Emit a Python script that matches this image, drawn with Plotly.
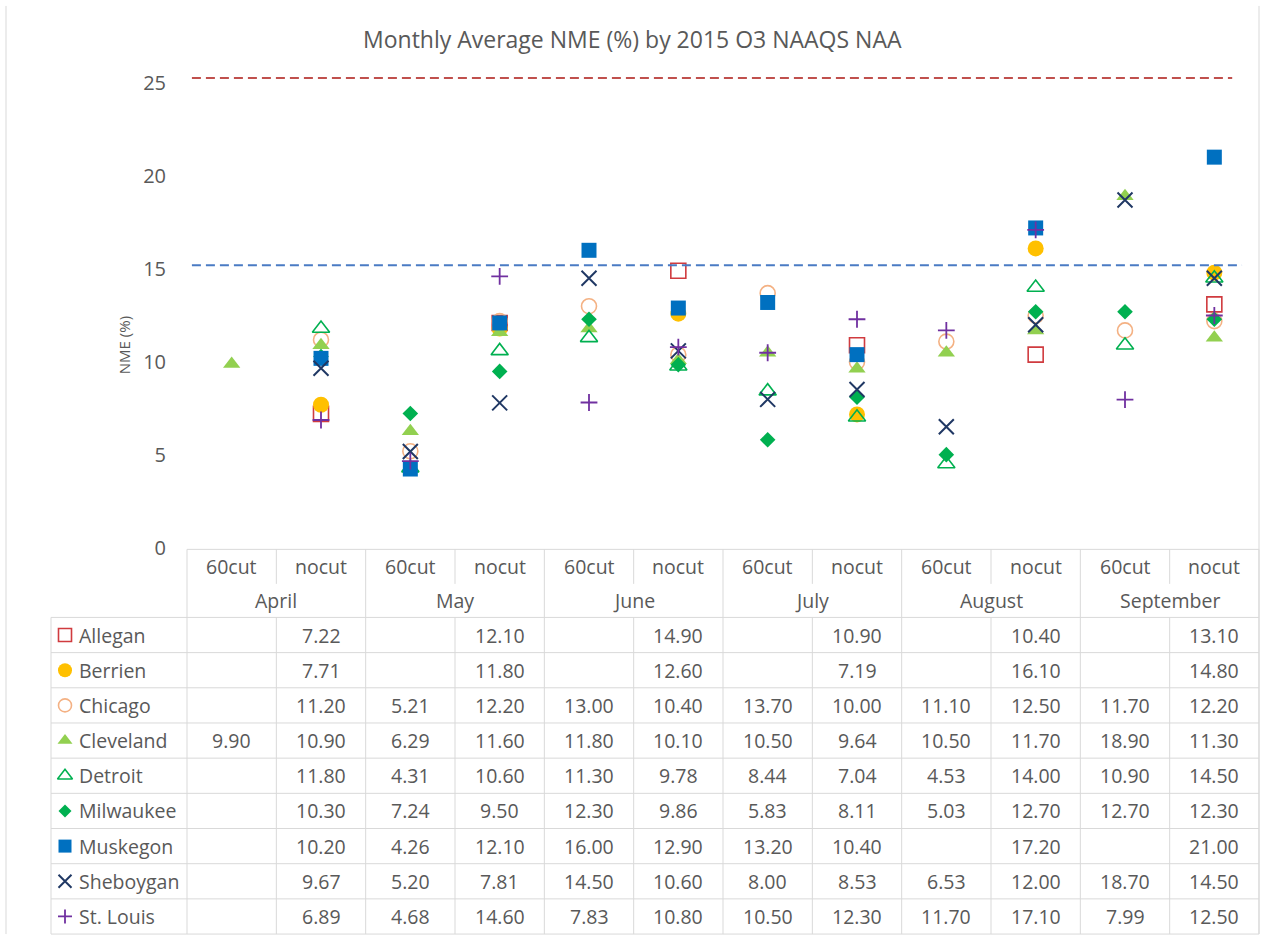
import plotly.graph_objects as go

# ---- data -------------------------------------------------------------
months = ["April", "May", "June", "July", "August", "September"]
cuts = ["60cut", "nocut"]
sites = ["Allegan", "Berrien", "Chicago", "Cleveland", "Detroit",
         "Milwaukee", "Muskegon", "Sheboygan", "St. Louis"]

# monthly average NME (%), ordered April 60cut, April nocut, May 60cut, ...
allegan   = [None, 7.22, None, 12.10, None, 14.90, None, 10.90, None, 10.40, None, 13.10]
berrien   = [None, 7.71, None, 11.80, None, 12.60, None, 7.19, None, 16.10, None, 14.80]
chicago   = [None, 11.20, 5.21, 12.20, 13.00, 10.40, 13.70, 10.00, 11.10, 12.50, 11.70, 12.20]
cleveland = [9.90, 10.90, 6.29, 11.60, 11.80, 10.10, 10.50, 9.64, 10.50, 11.70, 18.90, 11.30]
detroit   = [None, 11.80, 4.31, 10.60, 11.30, 9.78, 8.44, 7.04, 4.53, 14.00, 10.90, 14.50]
milwaukee = [None, 10.30, 7.24, 9.50, 12.30, 9.86, 5.83, 8.11, 5.03, 12.70, 12.70, 12.30]
muskegon  = [None, 10.20, 4.26, 12.10, 16.00, 12.90, 13.20, 10.40, None, 17.20, None, 21.00]
sheboygan = [None, 9.67, 5.20, 7.81, 14.50, 10.60, 8.00, 8.53, 6.53, 12.00, 18.70, 14.50]
st_louis  = [None, 6.89, 4.68, 14.60, 7.83, 10.80, 10.50, 12.30, 11.70, 17.10, 7.99, 12.50]

series = [allegan, berrien, chicago, cleveland, detroit,
          milwaukee, muskegon, sheboygan, st_louis]

# performance benchmark reference levels (%)
thresholds = [25.25, 15.2]
y_ticks = [0, 5, 10, 15, 20, 25]

# ---- styling ------------------------------------------------------------
TEXT = "#595959"
GRID = "#D9D9D9"
FONT = "Open Sans"

styles = [
    dict(symbol="square-open",   color="#D03B3F", size=15, lw=1.6),
    dict(symbol="circle",        color="#FFC000", size=16, lw=0),
    dict(symbol="circle-open",   color="#F4B183", size=15, lw=1.6),
    dict(symbol="triangle-up",   color="#92D050", size=15, lw=0),
    dict(symbol="triangle-up-open", color="#00B050", size=15, lw=1.6),
    dict(symbol="diamond",       color="#00B050", size=12, lw=0),
    dict(symbol="square",        color="#0070C0", size=15, lw=0),
    dict(symbol="x-thin-open",   color="#203864", size=15, lw=2),
    dict(symbol="cross-thin-open", color="#7030A0", size=12, lw=1.8),
]
threshold_colors = ["#C0504D", "#4A7BC4"]
threshold_ends = [11.2, 11.31]

W, H = 1264, 949
PLOT_L, PLOT_R, PLOT_T, PLOT_B = 187, 1259, 46, 556
Y_MAX = 27

n_cols = len(months) * len(cuts)
col_w = (PLOT_R - PLOT_L) / n_cols
col_edges = [PLOT_L + col_w * i for i in range(n_cols + 1)]
TABLE_TOP, HEAD_SPLIT, HEAD_BOTTOM = 557, 592, 626
row_h = 35.67
TABLE_LEFT = 51
TABLE_BOTTOM = HEAD_BOTTOM + row_h * len(sites)

fig = go.Figure()

# ---- scatter points on the value axis ----------------------------------
x_idx = list(range(n_cols))
for name, vals, st in zip(sites, series, styles):
    fig.add_trace(go.Scatter(
        x=x_idx, y=vals, mode="markers", name=name,
        marker=dict(symbol=st["symbol"], size=st["size"], color=st["color"],
                    line=dict(color=st["color"], width=st["lw"])),
        xaxis="x", yaxis="y", showlegend=False, cliponaxis=False,
    ))

for val, col, x_end in zip(thresholds, threshold_colors, threshold_ends):
    fig.add_shape(type="line", xref="x", yref="y", x0=-0.445, x1=x_end,
                  y0=val, y1=val, line=dict(color=col, width=2, dash="9px,5px"))

# ---- data table (pixel overlay axes) -----------------------------------
shapes = []


def hline(y, x0, x1):
    shapes.append(dict(type="line", xref="x2", yref="y2", x0=x0, x1=x1, y0=y, y1=y,
                       line=dict(color=GRID, width=1)))


def vline(x, y0, y1):
    shapes.append(dict(type="line", xref="x2", yref="y2", x0=x, x1=x, y0=y0, y1=y1,
                       line=dict(color=GRID, width=1)))


# outer chart border
hline(6, 6, PLOT_R)
hline(TABLE_BOTTOM, 6, PLOT_R)
vline(6, 6, TABLE_BOTTOM)
vline(PLOT_R, 6, TABLE_BOTTOM)

hline(TABLE_TOP, PLOT_L, PLOT_R)
for i in range(len(sites) + 1):
    hline(HEAD_BOTTOM + row_h * i, TABLE_LEFT, PLOT_R)
vline(TABLE_LEFT, HEAD_BOTTOM, TABLE_BOTTOM)
for i, xe in enumerate(col_edges):
    if i % 2 == 0:
        vline(xe, TABLE_TOP, TABLE_BOTTOM)
    else:
        vline(xe, TABLE_TOP, HEAD_SPLIT)
        vline(xe, HEAD_BOTTOM, TABLE_BOTTOM)

annotations = []
CELL_SIZE = 19.5


def cell_text(x, y, text, anchor="center"):
    annotations.append(dict(x=x, y=y, xref="x2", yref="y2", text=text, showarrow=False,
                            xanchor=anchor, yanchor="middle",
                            font=dict(family=FONT, size=CELL_SIZE, color=TEXT)))


for m, month in enumerate(months):
    for c, cut in enumerate(cuts):
        k = 2 * m + c
        cell_text(col_edges[k] + col_w / 2, (TABLE_TOP + HEAD_SPLIT) / 2, cut)
    cell_text(col_edges[2 * m + 1], (HEAD_SPLIT + HEAD_BOTTOM) / 2, month)

for r, (name, vals) in enumerate(zip(sites, series)):
    yc = HEAD_BOTTOM + row_h * (r + 0.5)
    cell_text(77, yc, name, anchor="left")
    for k, v in enumerate(vals):
        if v is not None:
            cell_text(col_edges[k] + col_w / 2, yc, f"{v:.2f}")
    st = styles[r]
    fig.add_trace(go.Scatter(
        x=[65], y=[yc], mode="markers", xaxis="x2", yaxis="y2", showlegend=False,
        marker=dict(symbol=st["symbol"], size=st["size"] - 2, color=st["color"],
                    line=dict(color=st["color"], width=st["lw"])),
    ))

# title and axis title
annotations.append(dict(x=632, y=40, xref="x2", yref="y2", showarrow=False,
                        text="Monthly Average NME (%) by 2015 O3 NAAQS NAA",
                        font=dict(family=FONT, size=23, color=TEXT),
                        xanchor="center", yanchor="middle"))
annotations.append(dict(x=124, y=350, xref="x2", yref="y2", showarrow=False,
                        text="NME (%)", textangle=-90,
                        font=dict(family=FONT, size=15, color=TEXT),
                        xanchor="center", yanchor="middle"))

fig.update_layout(
    width=W, height=H,
    margin=dict(l=0, r=0, t=0, b=0),
    paper_bgcolor="white", plot_bgcolor="rgba(0,0,0,0)",
    xaxis=dict(domain=[PLOT_L / W, PLOT_R / W], range=[-0.5, n_cols - 0.5],
               visible=False, fixedrange=True),
    yaxis=dict(domain=[(H - PLOT_B) / H, (H - PLOT_T) / H], range=[0, Y_MAX],
               tickvals=y_ticks, showgrid=False, zeroline=False, showline=False,
               ticks="", ticklabelstandoff=20,
               tickfont=dict(family=FONT, size=20, color=TEXT)),
    xaxis2=dict(domain=[0, 1], range=[0, W], visible=False, anchor="y2"),
    yaxis2=dict(domain=[0, 1], range=[H, 0], visible=False, anchor="x2"),
    shapes=shapes,
    annotations=annotations,
)

fig.write_html("out.html")
